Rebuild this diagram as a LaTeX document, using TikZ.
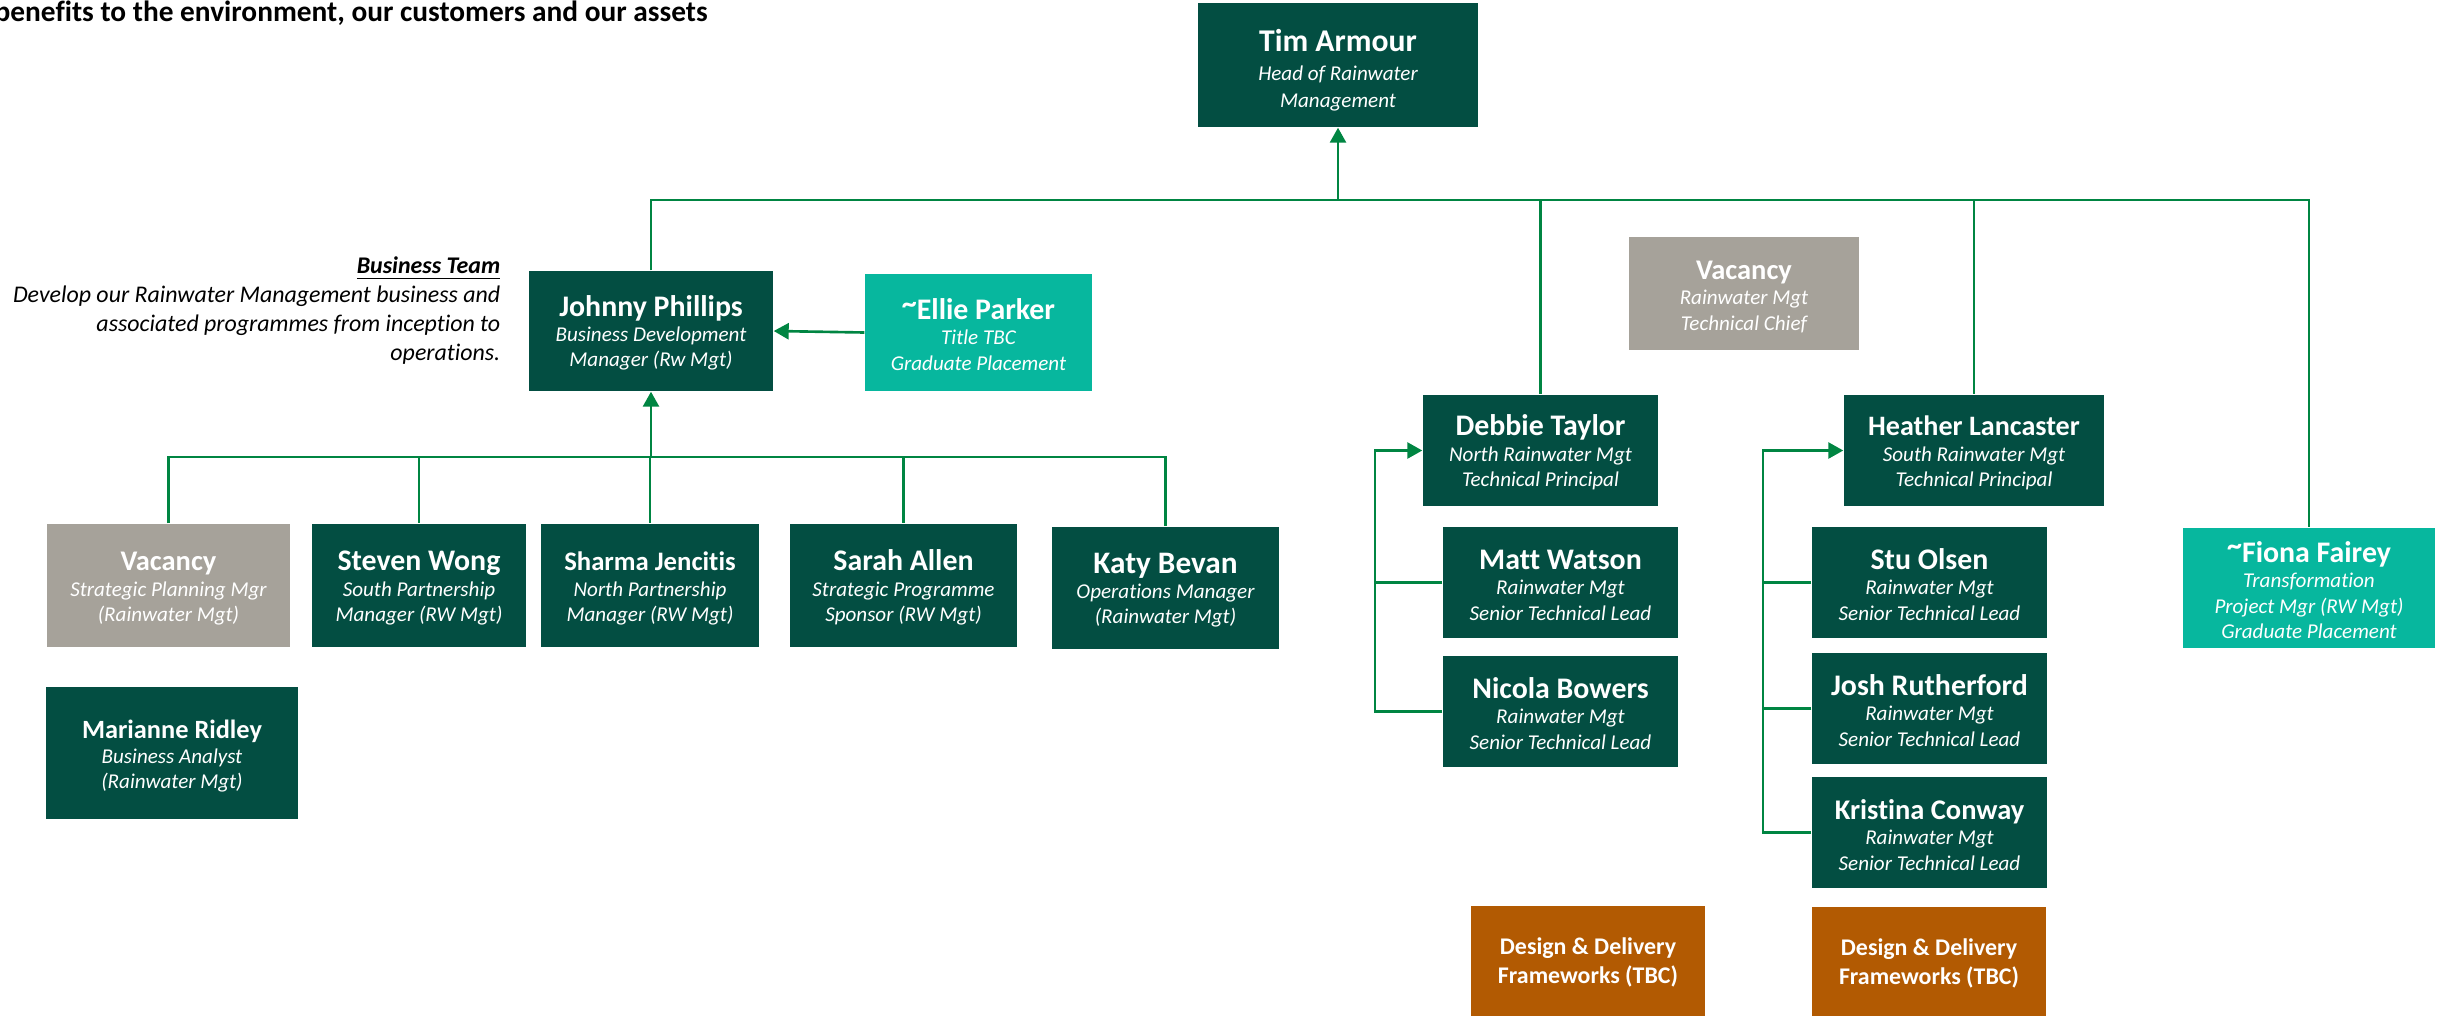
\documentclass[tikz,border=0pt]{standalone}
\usepackage{fontspec}
\setmainfont{Carlito}[Ligatures=NoCommon]
\usepackage[usenames,dvipsnames,svgnames,table]{xcolor}
\usepackage{tikz}
\usetikzlibrary{arrows.meta}

\definecolor{rwdark}{RGB}{3,78,66}
\definecolor{rwteal}{RGB}{7,183,158}
\definecolor{rwgrey}{RGB}{166,162,154}
\definecolor{rwbrown}{RGB}{178,90,2}
\definecolor{rwline}{RGB}{0,133,66}

\newcommand{\who}[2][8.5] % [taille]{nom} puis les lignes du poste
{{\fontsize{#1}{10}\selectfont\bfseries\upshape\rule{0pt}{7.1pt}#2}\\}
\newcommand{\grad}{\raisebox{0.22em}{\textasciitilde}} % tilde des stagiaires

\tikzset{
	box/.style={rectangle, fill=rwdark, text=white, inner sep=0pt, align=center, font=\fontsize{6}{7.2}\selectfont\itshape},
	vacant/.style={box, fill=rwgrey},
	grad/.style={box, fill=rwteal},
	frame/.style={box, fill=rwbrown, font=\fontsize{6.8}{8.3}\selectfont\bfseries},
	link/.style={draw=rwline, line width=0.75pt},
	arr/.style={link, -{Triangle[length=0.15cm,width=0.16cm]}}
}

\begin{document}
\begin{tikzpicture}
		\useasboundingbox (0,0) rectangle (24.38,-10.16);
		\clip (0,0) rectangle (24.38,-10.16);
		
		\node[anchor=base west, inner sep=0pt, font=\fontsize{8.35}{10}\selectfont\bfseries] (motto) at (-0.06,-0.215) {benefits to the environment, our customers and our assets};
		\node[anchor=north east, align=right, inner sep=0pt, font=\fontsize{6.8}{8.3}\selectfont\itshape] (teamtxt) at (5.01,-2.56) {\underline{\textbf{Business Team}}\\ Develop our Rainwater Management business and\\ associated programmes from inception to\\ operations.};
		
		% tete
		\node[box, minimum width=2.80cm, minimum height=1.24cm] (tim) at (13.38,-0.65) {{\fontsize{9}{10}\selectfont\bfseries\upshape\rule{0pt}{9.3pt}Tim Armour}\\[0.9pt] Head of Rainwater\\[0.45pt] Management};
		
		% business team
		\node[box, minimum width=2.44cm, minimum height=1.20cm] (johnny) at (6.51,-3.31) {\who{Johnny Phillips}Business Development\\ Manager (Rw Mgt)};
		\node[grad, minimum width=2.27cm, minimum height=1.17cm] (ellie) at (9.785,-3.325) {\who{\grad Ellie Parker}Title TBC\\ Graduate Placement};
		\node[vacant, minimum width=2.43cm, minimum height=1.23cm] (vacplan) at (1.685,-5.855) {\who[8.1]{Vacancy}Strategic Planning Mgr\\ (Rainwater Mgt)};
		\node[box, minimum width=2.14cm, minimum height=1.23cm] (steven) at (4.19,-5.855) {\who{Steven Wong}South Partnership\\ Manager (RW Mgt)};
		\node[box, minimum width=2.18cm, minimum height=1.23cm] (sharma) at (6.50,-5.855) {\who[7.6]{Sharma Jencitis}North Partnership\\ Manager (RW Mgt)};
		\node[box, minimum width=2.27cm, minimum height=1.23cm] (sarah) at (9.035,-5.855) {\who{Sarah Allen}Strategic Programme\\ Sponsor (RW Mgt)};
		\node[box, minimum width=2.27cm, minimum height=1.22cm] (katy) at (11.655,-5.88) {\who[8.9]{Katy Bevan}Operations Manager\\ (Rainwater Mgt)};
		\node[box, minimum width=2.52cm, minimum height=1.32cm] (marianne) at (1.72,-7.53) {\who[7.5]{Marianne Ridley}Business Analyst\\ (Rainwater Mgt)};
		
		% technique
		\node[vacant, minimum width=2.30cm, minimum height=1.13cm] (vacchief) at (17.44,-2.935) {\who[8.1]{Vacancy}Rainwater Mgt\\ Technical Chief};
		\node[box, minimum width=2.35cm, minimum height=1.11cm] (debbie) at (15.405,-4.505) {\who{Debbie Taylor}North Rainwater Mgt\\ Technical Principal};
		\node[box, minimum width=2.60cm, minimum height=1.11cm] (heather) at (19.74,-4.505) {\who[8]{Heather Lancaster}South Rainwater Mgt\\ Technical Principal};
		\node[box, minimum width=2.35cm, minimum height=1.11cm] (matt) at (15.605,-5.825) {\who{Matt Watson}Rainwater Mgt\\ Senior Technical Lead};
		\node[box, minimum width=2.35cm, minimum height=1.11cm] (nicola) at (15.605,-7.115) {\who{Nicola Bowers}Rainwater Mgt\\ Senior Technical Lead};
		\node[box, minimum width=2.35cm, minimum height=1.11cm] (stu) at (19.295,-5.825) {\who{Stu Olsen}Rainwater Mgt\\ Senior Technical Lead};
		\node[box, minimum width=2.35cm, minimum height=1.11cm] (josh) at (19.295,-7.085) {\who{Josh Rutherford}Rainwater Mgt\\ Senior Technical Lead};
		\node[box, minimum width=2.35cm, minimum height=1.11cm] (kristina) at (19.295,-8.325) {\who[8.1]{Kristina Conway}Rainwater Mgt\\ Senior Technical Lead};
		\node[frame, minimum width=2.34cm, minimum height=1.13cm] (ddnorth) at (15.88,-9.625) {Design \& Delivery\\ Frameworks (TBC)};
		\node[frame, minimum width=2.34cm, minimum height=1.13cm] (ddsouth) at (19.29,-9.635) {Design \& Delivery\\ Frameworks (TBC)};
		\node[grad, minimum width=2.52cm, minimum height=1.20cm] (fiona) at (23.09,-5.88) {\who{\grad Fiona Fairey}Transformation\\ Project Mgr (RW Mgt)\\ Graduate Placement};
		
		\coordinate (topbus) at (13.38,-2.00);
		\coordinate (bizbus) at (6.51,-4.57);
		\coordinate (northspine) at (13.75,-4.5);
		\coordinate (southspine) at (17.63,-4.5);
		
		\draw[link] (johnny.north) |- (topbus) -| (fiona.north);
		\draw[link] (topbus -| debbie.north) -- (debbie.north);
		\draw[link] (topbus -| heather.north) -- (heather.north);
		\draw[arr] (topbus) -- (tim.south);
		\draw[arr] (ellie.west) -- (johnny.east);
		
		\draw[link] (vacplan.north) |- (bizbus) -| (katy.north);
		\draw[link] (bizbus -| steven.north) -- (steven.north);
		\draw[link] (bizbus -| sharma.north) -- (sharma.north);
		\draw[link] (bizbus -| sarah.north) -- (sarah.north);
		\draw[arr] (bizbus) -- (johnny.south);
		
		\draw[arr] (nicola.west) -| (northspine |- debbie.west) -- (debbie.west);
		\draw[link] (matt.west) -- (matt.west -| northspine);
		\draw[arr] (kristina.west) -| (southspine |- heather.west) -- (heather.west);
		\draw[link] (stu.west) -- (stu.west -| southspine);
		\draw[link] (josh.west) -- (josh.west -| southspine);
		
\end{tikzpicture}
\end{document}
